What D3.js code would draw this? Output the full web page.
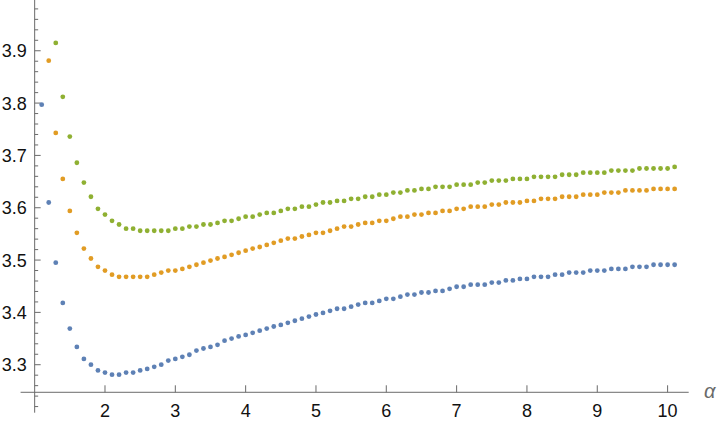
<!DOCTYPE html>
<html><head><meta charset="utf-8">
<script src="https://cdn.jsdelivr.net/npm/d3@7"></script>
<style>html,body{margin:0;padding:0;background:#fff;}svg{display:block;}</style>
</head><body>
<svg id="chart" width="720" height="426"></svg>
<script>
const alpha = [1.1,1.2,1.3,1.4,1.5,1.6,1.7,1.8,1.9,2.0,
2.1,2.2,2.3,2.4,2.5,2.6,2.7,2.8,2.9,3.0,
3.1,3.2,3.3,3.4,3.5,3.6,3.7,3.8,3.9,4.0,
4.1,4.2,4.3,4.4,4.5,4.6,4.7,4.8,4.9,5.0,
5.1,5.2,5.3,5.4,5.5,5.6,5.7,5.8,5.9,6.0,
6.1,6.2,6.3,6.4,6.5,6.6,6.7,6.8,6.9,7.0,
7.1,7.2,7.3,7.4,7.5,7.6,7.7,7.8,7.9,8.0,
8.1,8.2,8.3,8.4,8.5,8.6,8.7,8.8,8.9,9.0,
9.1,9.2,9.3,9.4,9.5,9.6,9.7,9.8,9.9,10.0,
10.1];

// series 1 starts at alpha = 1.1
const seriesBlue = [3.797,3.610,3.495,3.418,3.369,3.334,3.311,3.300,3.289,3.285,
3.281,3.281,3.285,3.285,3.289,3.292,3.296,3.300,3.308,3.311,
3.315,3.319,3.327,3.331,3.334,3.338,3.346,3.350,3.354,3.357,
3.361,3.365,3.369,3.373,3.376,3.380,3.384,3.388,3.392,3.396,
3.399,3.403,3.407,3.407,3.411,3.415,3.418,3.418,3.422,3.426,
3.426,3.430,3.434,3.434,3.438,3.438,3.441,3.441,3.445,3.449,
3.449,3.453,3.453,3.453,3.457,3.457,3.461,3.461,3.464,3.464,
3.468,3.468,3.468,3.472,3.472,3.476,3.476,3.476,3.480,3.480,
3.480,3.483,3.483,3.483,3.487,3.487,3.487,3.491,3.491,3.491,
3.491];

// series 2 starts at alpha = 1.2
const seriesOrange = [3.881,3.743,3.655,3.594,3.552,3.522,3.503,3.487,3.480,
3.472,3.468,3.468,3.468,3.468,3.468,3.472,3.476,3.480,3.480,
3.483,3.487,3.491,3.495,3.499,3.503,3.506,3.510,3.514,3.518,
3.522,3.525,3.529,3.533,3.537,3.541,3.541,3.545,3.548,3.552,
3.552,3.556,3.560,3.564,3.564,3.568,3.571,3.571,3.575,3.575,
3.579,3.583,3.583,3.587,3.587,3.590,3.590,3.594,3.594,3.598,
3.598,3.602,3.602,3.602,3.606,3.606,3.610,3.610,3.610,3.613,
3.613,3.617,3.617,3.617,3.621,3.621,3.621,3.625,3.625,3.625,
3.629,3.629,3.629,3.633,3.633,3.633,3.633,3.636,3.636,3.636,
3.636];

// series 3 starts at alpha = 1.3
const seriesGreen = [3.915,3.812,3.736,3.686,3.648,3.621,3.598,3.587,
3.575,3.568,3.560,3.560,3.556,3.556,3.556,3.556,3.556,3.560,
3.560,3.564,3.564,3.568,3.568,3.571,3.575,3.575,3.579,3.583,
3.583,3.587,3.590,3.590,3.594,3.598,3.598,3.602,3.602,3.606,
3.610,3.610,3.613,3.613,3.617,3.617,3.621,3.621,3.625,3.625,
3.629,3.629,3.633,3.633,3.636,3.636,3.640,3.640,3.640,3.644,
3.644,3.644,3.648,3.648,3.652,3.652,3.652,3.655,3.655,3.655,
3.659,3.659,3.659,3.659,3.663,3.663,3.663,3.667,3.667,3.667,
3.667,3.671,3.671,3.671,3.671,3.675,3.675,3.675,3.675,3.675,
3.678];

const xTicks = [2,3,4,5,6,7,8,9,10];
const yMajorTicks = [3.3,3.4,3.5,3.6,3.7,3.8,3.9];
const yMinorTicks = [3.22,3.24,3.26,3.28,3.32,3.34,3.36,3.38,3.42,3.44,3.46,3.48,
  3.52,3.54,3.56,3.58,3.62,3.64,3.66,3.68,3.72,3.74,3.76,3.78,3.82,3.84,3.86,3.88,
  3.92,3.94,3.96,3.98];
const axisLabel = "α";

const series = [
  {name: "s1", values: seriesBlue, color: "#5E81B5"},
  {name: "s2", values: seriesOrange, color: "#E19C24"},
  {name: "s3", values: seriesGreen, color: "#8FB032"}
];

const svg = d3.select("#chart");
const x = d3.scaleLinear().domain([0.8, 10.3]).range([20.6, 688.7]);
const y = d3.scaleLinear().domain([3.2083, 3.997]).range([412.7, 0]);

const xOrigin = 1.0;      // where the vertical axis sits
const yOrigin = 3.2473;   // where the horizontal axis sits
const axisColor = "#6a6a6a";
const font = "'Liberation Sans', Arial, Helvetica, sans-serif";

const ax = svg.append("g");
// x axis line
ax.append("line")
  .attr("x1", x.range()[0]).attr("x2", x.range()[1])
  .attr("y1", y(yOrigin)).attr("y2", y(yOrigin))
  .attr("stroke", axisColor).attr("stroke-width", 1);
// y axis line
ax.append("line")
  .attr("x1", x(xOrigin)).attr("x2", x(xOrigin))
  .attr("y1", y.range()[0]).attr("y2", y.range()[1])
  .attr("stroke", axisColor).attr("stroke-width", 1);

// x ticks (pointing up)
ax.selectAll(".xt").data(xTicks).join("line")
  .attr("x1", d => x(d)).attr("x2", d => x(d))
  .attr("y1", y(yOrigin)).attr("y2", y(yOrigin) - 7)
  .attr("stroke", axisColor).attr("stroke-width", 1);
ax.selectAll(".xl").data(xTicks).join("text")
  .attr("x", d => x(d)).attr("y", y(yOrigin) + 24.5)
  .attr("text-anchor", "middle")
  .attr("font-family", font).attr("font-size", 18).attr("fill", "#111")
  .text(d => d);

// y ticks (pointing right)
ax.selectAll(".ymt").data(yMajorTicks).join("line")
  .attr("x1", x(xOrigin)).attr("x2", x(xOrigin) + 6)
  .attr("y1", d => y(d)).attr("y2", d => y(d))
  .attr("stroke", axisColor).attr("stroke-width", 1);
ax.selectAll(".ynt").data(yMinorTicks).join("line")
  .attr("x1", x(xOrigin)).attr("x2", x(xOrigin) + 3.5)
  .attr("y1", d => y(d)).attr("y2", d => y(d))
  .attr("stroke", axisColor).attr("stroke-width", 1);
ax.selectAll(".yl").data(yMajorTicks).join("text")
  .attr("x", x(xOrigin) - 8).attr("y", d => y(d))
  .attr("dy", "0.36em")
  .attr("text-anchor", "end")
  .attr("font-family", font).attr("font-size", 18).attr("fill", "#111")
  .text(d => d.toFixed(1));

// axis label
ax.append("text")
  .attr("x", 704).attr("y", y(yOrigin) + 6)
  .attr("font-family", font).attr("font-size", 20).attr("font-style", "italic")
  .attr("fill", "#6a6a6a")
  .text(axisLabel);

// points
series.forEach(s => {
  const offset = alpha.length - s.values.length;
  const pts = s.values.map((v, i) => ({a: alpha[i + offset], v}));
  svg.append("g").selectAll("circle").data(pts).join("circle")
    .attr("cx", d => x(d.a)).attr("cy", d => y(d.v))
    .attr("r", 2.4).attr("fill", s.color);
});
</script>
</body></html>
